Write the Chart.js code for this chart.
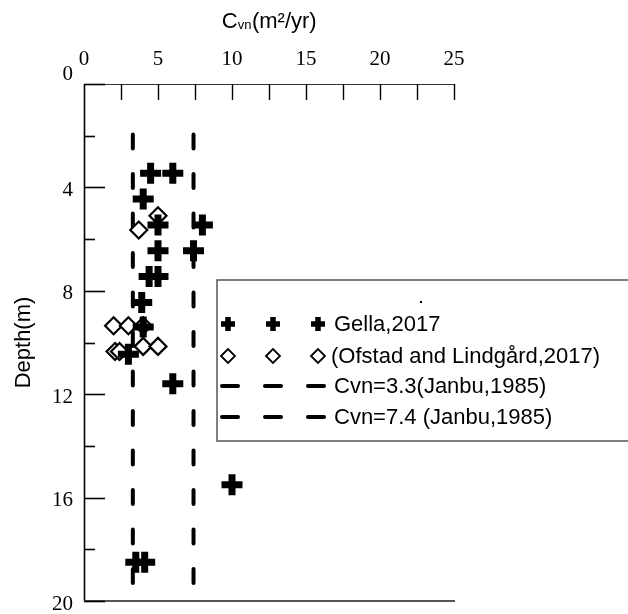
<!DOCTYPE html>
<html><head><meta charset="utf-8">
<script src="https://cdn.jsdelivr.net/npm/chart.js@4/dist/chart.umd.min.js"></script>
<style>html,body{margin:0;padding:0;background:#fff}#wrap{width:628px;height:614px}</style>
</head><body><div id="wrap"><canvas id="c" width="628" height="614"></canvas></div>
<script>
// ---- data ----
const xTicks = [0, 5, 10, 15, 20, 25];
const yTicks = [0, 4, 8, 12, 16, 20];
const gellaCvn   = [4.5, 6.0, 4.0, 5.0, 8.0, 5.0, 7.4, 4.4, 5.0, 3.9, 4.0, 3.0, 6.0, 10.0, 3.5, 4.1];
const gellaDepth = [3.45, 3.45, 4.45, 5.45, 5.45, 6.45, 6.45, 7.45, 7.45, 8.45, 9.4, 10.45, 11.6, 15.5, 18.5, 18.5];
const ofstadCvn   = [5.0, 3.7, 2.0, 3.0, 4.0, 4.0, 5.0, 2.1, 2.4];
const ofstadDepth = [5.1, 5.65, 9.35, 9.35, 9.35, 10.15, 10.15, 10.35, 10.35];
const janbuCvn = [3.3, 7.4];
const janbuDepthRange = [1.95, 19.4];
const legendLabels = ['Gella,2017', '(Ofstad and Lindgård,2017)', 'Cvn=3.3(Janbu,1985)', 'Cvn=7.4 (Janbu,1985)'];
const xTitleParts = ['C', 'vn', '(m²/yr)'];
const yTitle = 'Depth(m)';

const pts = (xs, ys) => xs.map((x, i) => ({x: x, y: ys[i]}));
const noPad = s => { s.paddingTop = 0; s.paddingBottom = 0; s.paddingLeft = 0; s.paddingRight = 0; };

const decor = {
  id: 'decor',
  beforeDatasetsDraw(chart) {
    const ctx = chart.ctx, a = chart.chartArea;
    const xs = chart.scales.x, ys = chart.scales.y;
    ctx.save();
    ctx.strokeStyle = '#333'; ctx.lineWidth = 1.2;
    ctx.beginPath(); ctx.moveTo(a.left, a.top + 0.5); ctx.lineTo(a.right + 1, a.top + 0.5); ctx.stroke();
    ctx.strokeStyle = '#000'; ctx.lineWidth = 1.6;
    ctx.beginPath(); ctx.moveTo(a.left + 0.5, a.top); ctx.lineTo(a.left + 0.5, a.bottom); ctx.stroke();
    ctx.strokeStyle = '#555'; ctx.lineWidth = 2;
    ctx.beginPath(); ctx.moveTo(a.left, a.bottom); ctx.lineTo(a.right + 1, a.bottom); ctx.stroke();
    ctx.strokeStyle = '#000'; ctx.lineWidth = 1.4;
    for (let v = 2.5; v <= 25.001; v += 2.5) {
      const px = Math.round(xs.getPixelForValue(v)) + 0.5;
      ctx.beginPath(); ctx.moveTo(px, a.top); ctx.lineTo(px, a.top + 16); ctx.stroke();
    }
    ctx.lineWidth = 1.6;
    for (let v = 0; v <= 20.001; v += 2) {
      const py = Math.round(ys.getPixelForValue(v)) + 0.5;
      const len = (v % 4 === 0) ? 21 : 11;
      ctx.beginPath(); ctx.moveTo(a.left, py); ctx.lineTo(a.left + len, py); ctx.stroke();
    }
    ctx.restore();
  },
  afterDraw(chart) {
    const ctx = chart.ctx, a = chart.chartArea;
    ctx.save();
    ctx.fillStyle = '#000';
    ctx.textBaseline = 'alphabetic';
    const big = '22px "Liberation Sans", Arial, sans-serif';
    const small = '13px "Liberation Sans", Arial, sans-serif';
    ctx.font = big; const w1 = ctx.measureText(xTitleParts[0]).width; const w3 = ctx.measureText(xTitleParts[2]).width;
    ctx.font = small; const w2 = ctx.measureText(xTitleParts[1]).width;
    let tx = (a.left + a.right) / 2 - (w1 + w2 + w3) / 2;
    const base = 27.5;
    ctx.font = big; ctx.textAlign = 'left'; ctx.fillText(xTitleParts[0], tx, base); tx += w1;
    ctx.font = small; ctx.fillText(xTitleParts[1], tx, base + 1); tx += w2 + 0.5;
    ctx.font = big; ctx.fillText(xTitleParts[2], tx, base);

    const L = 217, T = 280, W = 440, H = 161;
    ctx.fillStyle = '#fff'; ctx.fillRect(L, T, W, H);
    ctx.strokeStyle = '#555'; ctx.lineWidth = 1.5; ctx.strokeRect(L, T, W, H);
    ctx.fillStyle = '#000'; ctx.fillRect(420, 301, 2, 2);
    const rows = [324, 356, 386, 417];
    const mx = [228, 273, 318];
    ctx.strokeStyle = '#000'; ctx.lineWidth = 5.5; ctx.lineCap = 'butt';
    mx.forEach(x => { const y = rows[0], r = 7; ctx.beginPath(); ctx.moveTo(x - r, y); ctx.lineTo(x + r, y); ctx.moveTo(x, y - r); ctx.lineTo(x, y + r); ctx.stroke(); });
    ctx.lineWidth = 1.8;
    mx.forEach(x => { const y = rows[1], r = 7; ctx.beginPath(); ctx.moveTo(x - r, y); ctx.lineTo(x, y - r); ctx.lineTo(x + r, y); ctx.lineTo(x, y + r); ctx.closePath(); ctx.fillStyle = '#fff'; ctx.fill(); ctx.stroke(); });
    ctx.lineWidth = 4; ctx.lineCap = 'round';
    [rows[2], rows[3]].forEach(y => { [230, 273, 316].forEach(cx => { ctx.beginPath(); ctx.moveTo(cx - 8, y); ctx.lineTo(cx + 8, y); ctx.stroke(); }); });
    ctx.fillStyle = '#000'; ctx.font = '22px "Liberation Sans", Arial, sans-serif';
    ctx.textBaseline = 'middle'; ctx.textAlign = 'left';
    legendLabels.forEach((t, i) => ctx.fillText(t, i === 1 ? 331 : 334, rows[i] + 1));
    ctx.restore();
  }
};

new Chart(document.getElementById('c').getContext('2d'), {
  type: 'scatter',
  data: {
    datasets: [
      {label: legendLabels[0], data: pts(gellaCvn, gellaDepth), pointStyle: 'cross', pointRadius: 10.5, pointHoverRadius: 10.5,
       pointBorderWidth: 7, borderColor: '#000', backgroundColor: '#000'},
      {label: legendLabels[1], data: pts(ofstadCvn, ofstadDepth), pointStyle: 'rectRot', pointRadius: 8.5, pointHoverRadius: 8.5,
       pointBorderWidth: 2.2, borderColor: '#000', backgroundColor: '#fff'},
      {type: 'line', label: legendLabels[2], data: janbuDepthRange.map(d => ({x: janbuCvn[0], y: d})), borderColor: '#000', borderWidth: 4,
       borderDash: [14, 25.5], borderCapStyle: 'round', pointRadius: 0, fill: false, showLine: true},
      {type: 'line', label: legendLabels[3], data: janbuDepthRange.map(d => ({x: janbuCvn[1], y: d})), borderColor: '#000', borderWidth: 4,
       borderDash: [14, 25.5], borderCapStyle: 'round', pointRadius: 0, fill: false, showLine: true}
    ]
  },
  options: {
    responsive: false, maintainAspectRatio: false, animation: false, devicePixelRatio: 1,
    layout: {autoPadding: false, padding: {left: 0, top: 0, right: 174, bottom: 13}},
    plugins: {legend: {display: false}, tooltip: {enabled: false}},
    scales: {
      x: {type: 'linear', position: 'top', min: 0, max: 25,
          afterBuildTicks: s => { s.ticks = xTicks.map(v => ({value: v})); },
          ticks: {color: '#000', padding: 12, font: {family: '"Liberation Serif", "Times New Roman", serif', size: 21}},
          grid: {display: false, drawTicks: false},
          border: {display: false},
          afterFit: s => { s.height = 84; noPad(s); }},
      y: {type: 'linear', reverse: true, min: 0, max: 20,
          afterBuildTicks: s => { s.ticks = yTicks.map(v => ({value: v})); },
          ticks: {color: '#000', padding: 11, labelOffset: 3,
                  callback: v => (v === 0 ? ['0', ''] : String(v)),
                  font: {family: '"Liberation Serif", "Times New Roman", serif', size: 21}},
          grid: {display: false, drawTicks: false},
          border: {display: false},
          title: {display: true, text: yTitle, color: '#000', padding: {top: 11, bottom: 0},
                  font: {family: '"Liberation Sans", Arial, sans-serif', size: 22}},
          afterFit: s => { s.width = 84; noPad(s); }}
    }
  },
  plugins: [decor]
});
</script>
</body></html>
